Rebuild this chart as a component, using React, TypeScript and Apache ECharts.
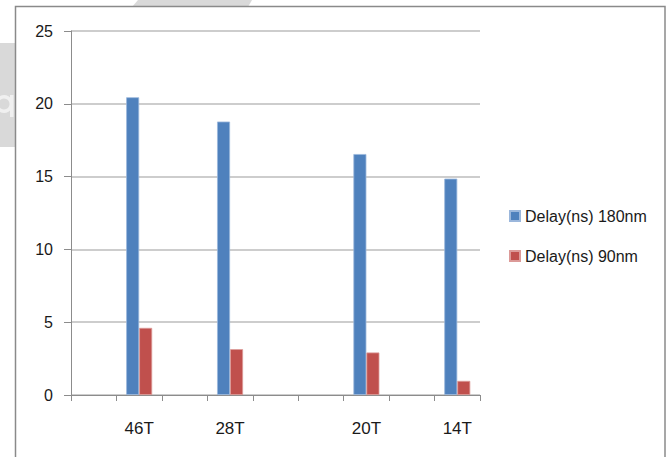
import React, { useEffect, useRef } from "react";
import * as echarts from "echarts";

// Nine category slots along the x axis; only four carry a gate count label.
const categories = ["", "46T", "", "28T", "", "", "20T", "", "14T"];
const delay180nm = [null, 20.45, null, 18.78, null, null, 16.55, null, 14.86];
const delay90nm = [null, 4.61, null, 3.15, null, null, 2.92, null, 0.97];
const seriesNames = ["Delay(ns) 180nm", "Delay(ns) 90nm"];
const yTicks = { min: 0, max: 25, interval: 5 };

const FONT = "'Liberation Sans', Arial, sans-serif";

export default function App() {
  const ref = useRef<HTMLDivElement>(null);

  useEffect(() => {
    if (!ref.current) return;
    const chart = echarts.init(ref.current, null, { renderer: "svg" });
    chart.setOption({
      animation: false,
      backgroundColor: "#ffffff",
      textStyle: { fontFamily: FONT },
      grid: { left: 71, right: 188, top: 31, bottom: 62, containLabel: false },
      legend: {
        orient: "vertical",
        left: 509,
        top: 208,
        padding: 0,
        itemWidth: 10,
        itemHeight: 10,
        itemGap: 24,
        icon: "rect",
        textStyle: { fontSize: 16, color: "#1a1a1a", fontFamily: FONT },
        data: seriesNames,
      },
      xAxis: {
        type: "category",
        data: categories,
        boundaryGap: true,
        axisLine: { show: true, lineStyle: { color: "#8c8c8c", width: 1 } },
        axisTick: {
          show: true,
          interval: 0,
          alignWithLabel: false,
          length: 6,
          lineStyle: { color: "#8c8c8c" },
        },
        axisLabel: {
          interval: 0,
          margin: 25,
          fontSize: 17,
          color: "#1a1a1a",
          fontFamily: FONT,
        },
        splitLine: { show: false },
      },
      yAxis: {
        type: "value",
        min: yTicks.min,
        max: yTicks.max,
        interval: yTicks.interval,
        axisLine: { show: true, lineStyle: { color: "#8c8c8c", width: 1 } },
        axisTick: { show: true, length: 7, lineStyle: { color: "#8c8c8c" } },
        axisLabel: { margin: 18, fontSize: 16, color: "#1a1a1a", fontFamily: FONT },
        splitLine: { show: true, lineStyle: { color: "#bdbdbd", width: 1.5 } },
      },
      series: [
        {
          name: seriesNames[0],
          type: "bar",
          data: delay180nm,
          barWidth: 13,
          barGap: "0%",
          itemStyle: { color: "#4F81BD", borderColor: "#9bb7dc", borderWidth: 0.8 },
        },
        {
          name: seriesNames[1],
          type: "bar",
          data: delay90nm,
          barWidth: 13,
          barGap: "0%",
          itemStyle: { color: "#C0504D", borderColor: "#dc9a98", borderWidth: 0.8 },
        },
      ],
      graphic: [
        // faint background shapes behind the chart frame
        {
          type: "rect",
          shape: { x: 0, y: 43, width: 16, height: 104 },
          style: { fill: "#d9d9d9" },
          z: -10,
        },
        {
          type: "ring",
          shape: { cx: 4, cy: 104, r: 9, r0: 5.5 },
          style: { fill: "#f0f0f0" },
          z: -9,
        },
        {
          type: "rect",
          shape: { x: 10, y: 95, width: 3.5, height: 22 },
          style: { fill: "#f0f0f0" },
          z: -9,
        },
        {
          type: "polygon",
          shape: { points: [[138, 0], [252, 0], [248, 7], [132, 7]] },
          style: { fill: "#d9d9d9" },
          z: -10,
        },
        // chart frame
        {
          type: "rect",
          shape: { x: 15.5, y: 6.5, width: 649.5, height: 470 },
          style: { fill: "none", stroke: "#8a8a8a", lineWidth: 1.5 },
          z: 10,
        },
      ],
    });
    return () => chart.dispose();
  }, []);

  return (
    <div
      ref={ref}
      style={{ position: "fixed", left: 0, top: 0, width: 668, height: 457 }}
    />
  );
}
